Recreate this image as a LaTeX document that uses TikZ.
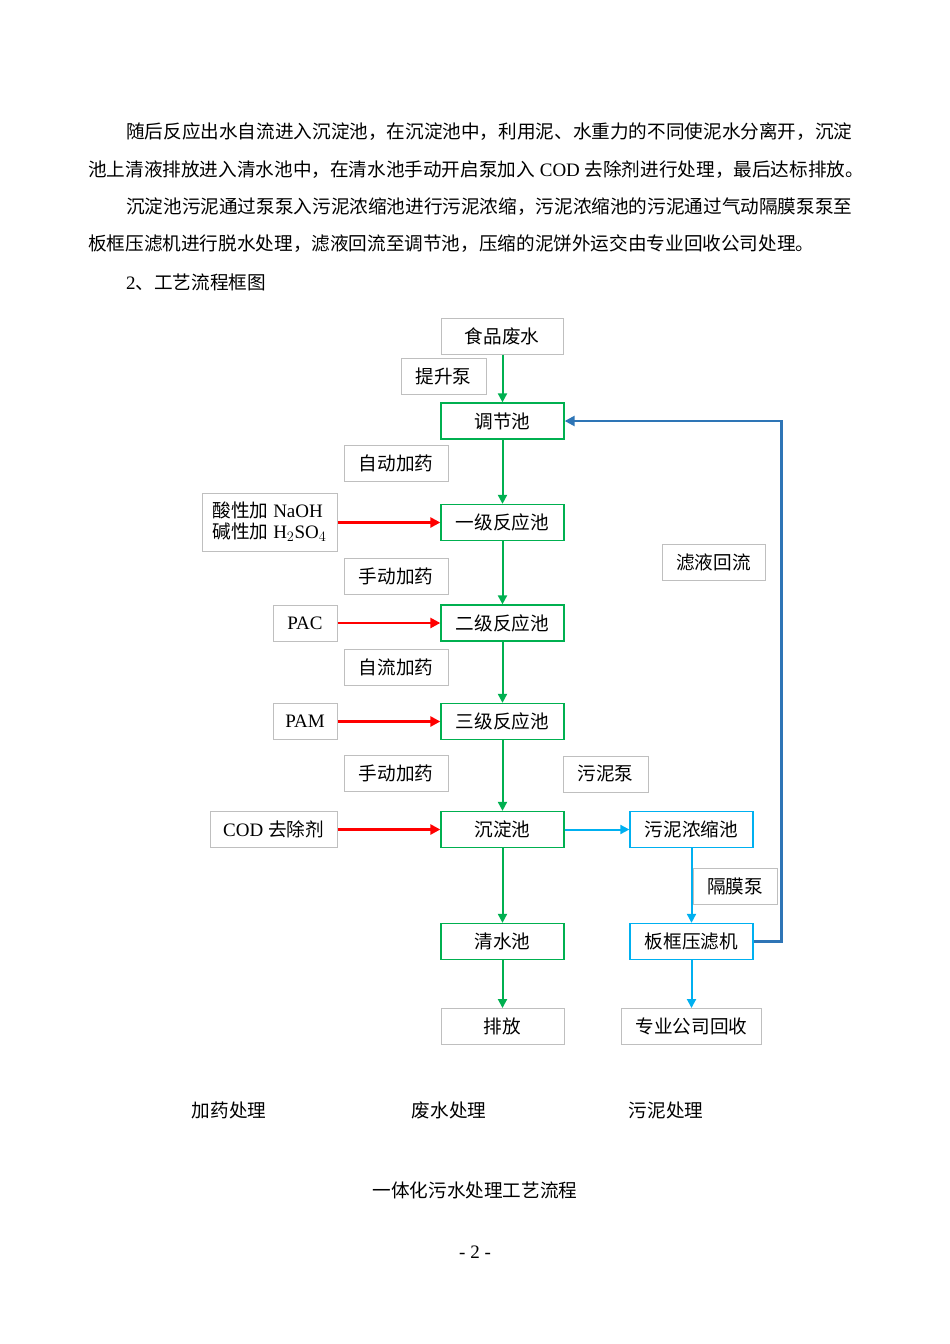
\documentclass[tikz,border=0pt]{standalone}
\usepackage{fontspec}
\setmainfont{Liberation Serif}
\newfontfamily\cjk{Noto Sans CJK SC}[Scale=0.98]
\usetikzlibrary{arrows.meta}
\definecolor{gr}{HTML}{00B050}
\definecolor{cy}{HTML}{00B0F0}
\definecolor{bl}{HTML}{2E75B6}
\definecolor{gy}{HTML}{BFBFBF}
\newcommand{\C}[1]{{\cjk #1}}
\begin{document}
\begin{tikzpicture}[x=1pt,y=1pt,
  every node/.style={font=\fontsize{19}{22}\selectfont, inner sep=0pt},
  bx/.style={draw, minimum height=36pt, line width=1.3pt},
  gbox/.style={bx, draw=gr, minimum width=123pt},
  cbox/.style={bx, draw=cy, minimum width=123pt},
  lbox/.style={bx, draw=gy, line width=1pt},
  ga/.style={draw=gr, line width=2pt, -{Triangle[length=9pt,width=9pt]}},
  ra/.style={draw=red, line width=2.4pt, -{Triangle[length=10pt,width=10pt]}},
  ca/.style={draw=cy, line width=2pt, -{Triangle[length=9pt,width=9pt]}},
  ba/.style={draw=bl, line width=2.4pt, -{Triangle[length=10pt,width=10pt]}},
  para/.style={anchor=west}]
\useasboundingbox (0,0) rectangle (950,-1344);
\node[para] (p1) at (126,-132) {\C{随后反应出水自流进入沉淀池，在沉淀池中，利用泥、水重力的不同使泥水分离开，沉淀}};
\node[para] (p2) at (88,-170) {\C{池上清液排放进入清水池中，在清水池手动开启泵加入} COD \C{去除剂进行处理，最后达标排放。}};
\node[para] (p3) at (126,-207) {\C{沉淀池污泥通过泵泵入污泥浓缩池进行污泥浓缩，污泥浓缩池的污泥通过气动隔膜泵泵至}};
\node[para] (p4) at (88,-244) {\C{板框压滤机进行脱水处理，滤液回流至调节池，压缩的泥饼外运交由专业回收公司处理。}};
\node[para] (p5) at (126,-282) {2\C{、工艺流程框图}};

\node[lbox, minimum width=122pt] (src) at (502,-336) {\C{食品废水}};
\node[lbox, minimum width=85pt] (lift) at (443.5,-376) {\C{提升泵}};
\node[gbox] (tj) at (502.5,-421) {\C{调节池}};
\node[lbox, minimum width=104pt] (zd) at (396,-463.5) {\C{自动加药}};
\node[lbox, minimum width=135pt, minimum height=58pt, align=left] (acid) at (269.5,-522) {\C{酸性加} NaOH\\[-1pt]\C{碱性加} H$_2$SO$_4$};
\node[gbox] (r1) at (502.5,-522.5) {\C{一级反应池}};
\node[lbox, minimum width=103pt] (lv) at (713.5,-562) {\C{滤液回流}};
\node[lbox, minimum width=104pt] (sd1) at (396,-576) {\C{手动加药}};
\node[lbox, minimum width=64pt] (pac) at (305,-623) {PAC};
\node[gbox] (r2) at (502.5,-623) {\C{二级反应池}};
\node[lbox, minimum width=104pt] (zl) at (396,-667.5) {\C{自流加药}};
\node[lbox, minimum width=64pt] (pam) at (305,-721.5) {PAM};
\node[gbox] (r3) at (502.5,-721.5) {\C{三级反应池}};
\node[lbox, minimum width=104pt] (sd2) at (396,-773) {\C{手动加药}};
\node[lbox, minimum width=85pt] (wnb) at (605.5,-774) {\C{污泥泵}};
\node[lbox, minimum width=127pt] (cod) at (273.5,-829.5) {COD \C{去除剂}};
\node[gbox] (cd) at (502.5,-829.5) {\C{沉淀池}};
\node[cbox] (ns) at (691.5,-829.5) {\C{污泥浓缩池}};
\node[lbox, minimum width=84pt] (gm) at (735,-886) {\C{隔膜泵}};
\node[gbox] (qs) at (502.5,-941.5) {\C{清水池}};
\node[cbox] (bk) at (691.5,-941.5) {\C{板框压滤机}};
\node[lbox, minimum width=123pt] (pf) at (502.5,-1026.5) {\C{排放}};
\node[lbox, minimum width=140pt] (zy) at (691.5,-1026.5) {\C{专业公司回收}};

\node (l1) at (229,-1110) {\C{加药处理}};
\node (l2) at (449,-1110) {\C{废水处理}};
\node (l3) at (666,-1110) {\C{污泥处理}};
\node (tt) at (475,-1190) {\C{一体化污水处理工艺流程}};
\node (pg) at (475,-1252) {- 2 -};

\draw[ga] (src.south -| tj) -- (tj);
\draw[ga] (tj) -- (r1);
\draw[ga] (r1) -- (r2);
\draw[ga] (r2) -- (r3);
\draw[ga] (r3) -- (cd);
\draw[ga] (cd) -- (qs);
\draw[ga] (qs) -- (pf);
\draw[ra] (acid.east |- r1) -- (r1);
\draw[ra] (pac) -- (r2);
\draw[ra] (pam) -- (r3);
\draw[ra] (cod) -- (cd);
\draw[ca] (cd) -- (ns);
\draw[ca] (ns) -- (bk);
\draw[ca] (bk) -- (zy);
\draw[ba] (bk.east) -- ++(28,0) |- (tj.east);
\end{tikzpicture}
\end{document}
